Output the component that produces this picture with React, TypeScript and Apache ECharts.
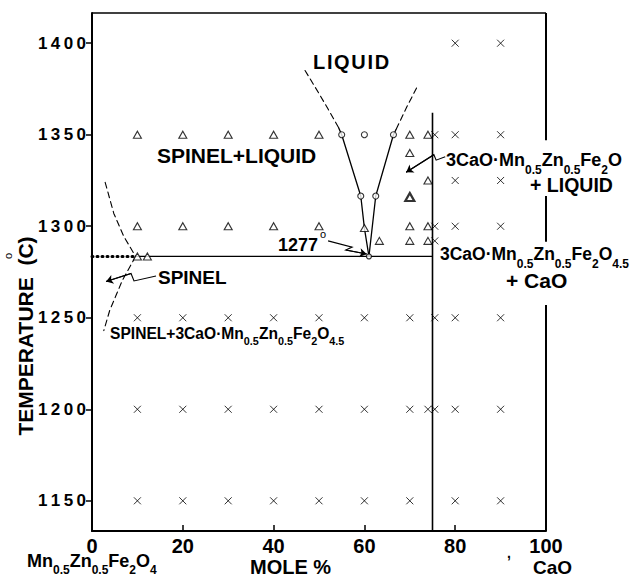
import React, { useEffect, useRef } from "react";
import * as echarts from "echarts";

const FONT = '"Liberation Sans", Arial, Helvetica, sans-serif';
const HS = "\u200A";
const TS = "\u2009";

const xMin = 0;
const xMax = 100;
const yMin = 1133.5;
const yMax = 1416.5;
const yTickValues = [1150, 1200, 1250, 1300, 1350, 1400];

// experimental points
const triangles = [
  [10, 1350], [20, 1350], [30, 1350], [40, 1350], [50, 1350], [70, 1350], [74, 1350],
  [70, 1340], [74, 1325],
  [10, 1300], [20, 1300], [30, 1300], [40, 1300], [50, 1300], [60, 1299], [70, 1300], [74, 1300],
  [63.3, 1292], [70, 1292], [74, 1292],
  [10, 1283.5], [12.2, 1283.5],
];
const boldTriangles = [[70, 1316]];
const circles = [
  [55, 1350], [60, 1350], [66.4, 1350], [59.2, 1316.5], [62.5, 1316.5],
];
const eutectic = [[61, 1283.5]];
const crosses = [
  [80, 1400], [90, 1400],
  [75.5, 1350], [80, 1350], [90, 1350],
  [80, 1325], [90, 1325],
  [75.5, 1300], [80, 1300], [90, 1300],
  [75.5, 1292],
  [10, 1250], [20, 1250], [30, 1250], [40, 1250], [50, 1250], [60, 1250], [70, 1250], [75.5, 1250], [80, 1250], [90, 1250],
  [10, 1200], [20, 1200], [30, 1200], [40, 1200], [50, 1200], [60, 1200], [70, 1200], [74, 1200], [75.5, 1200], [80, 1200], [90, 1200],
  [10, 1150], [20, 1150], [30, 1150], [40, 1150], [50, 1150], [60, 1150], [70, 1150], [80, 1150], [90, 1150],
];

// phase boundaries
const solidus = [[9.6, 1283.5], [75, 1283.5]];
const solidusDotted = [[0, 1283.5], [9.6, 1283.5]];
const compoundLine = [[75, 1362], [75, 1133.5]];
const leftLiquidus = [[61, 1283.5], [60, 1299], [59.2, 1316.5], [55, 1350], [54.3, 1354]];
const leftLiquidusDashed = [[54.3, 1354], [52, 1364], [50, 1372.5], [46.7, 1386]];
const rightLiquidus = [[61, 1283.5], [62.5, 1316.5], [66.4, 1350], [67, 1353]];
const rightLiquidusDashed = [[67, 1353], [69.3, 1365], [71.8, 1377]];
const spinelLiquidus = [[2.9, 1324], [4.8, 1307], [7, 1294.5], [9.6, 1283.5]];
const spinelSolvus = [[9.6, 1283.5], [6.7, 1270.5], [3.9, 1254], [2.6, 1243]];

// frame
const topBorder = [[0, 1416.5], [100, 1416.5]];
const rightBorder1 = [[100, 1416.5], [100, 1347]];
const rightBorder2 = [[100, 1316.5], [100, 1291.5]];
const rightBorder3 = [[100, 1257], [100, 1133.5]];

// annotation arrows (zig-zag leaders)
const arrow1277 = [[52, 1292], [57.3, 1288.6], [55.9, 1287], [60.5, 1284.8]];
const arrowSpinel = [[14.1, 1272.8], [9.25, 1270.1], [8.6, 1274.2], [3.1, 1269.8]];
const arrowCompound = [[77.8, 1338], [75.8, 1336.1], [75.3, 1339.1], [69.2, 1329.5]];

function lineSeries(data: number[][], type: any, width = 1.5) {
  return {
    type: "line",
    data,
    symbol: "none",
    showSymbol: false,
    silent: true,
    clip: false,
    z: 2,
    lineStyle: { color: "#000", width, type, cap: type === "solid" ? "butt" : "round" },
  };
}

function subRich(sub: number, shift: number) {
  return {
    s: {
      fontSize: sub,
      fontWeight: "bold",
      fontFamily: FONT,
      fill: "#000",
      verticalAlign: "bottom",
      lineHeight: Math.round(shift * 2 + sub * 1.15),
    },
  };
}

function txt(text: string, x: number, y: number, size: number, extra: any = {}) {
  return {
    type: "text",
    x,
    y,
    z: 100,
    silent: true,
    style: {
      text,
      fontSize: size,
      fontWeight: "bold",
      fontFamily: FONT,
      fill: "#000",
      align: "left",
      verticalAlign: "middle",
      lineHeight: Math.round(size * 0.9),
      ...extra,
    },
  };
}

export default function App() {
  const ref = useRef<HTMLDivElement>(null);
  useEffect(() => {
    if (!ref.current) return;
    const chart = echarts.init(ref.current, undefined, { renderer: "svg" });
    const arrowSeg = (pts: number[][]) => ({
      coords: [pts[pts.length - 2], pts[pts.length - 1]],
    });
    const option: any = {
      animation: false,
      backgroundColor: "#fff",
      grid: { left: 92, right: 85, top: 13, bottom: 48, containLabel: false },
      xAxis: {
        type: "value",
        min: xMin,
        max: xMax,
        interval: 20,
        axisLine: { onZero: false, lineStyle: { color: "#000", width: 2 } },
        axisTick: { show: true, inside: true, length: 6, lineStyle: { color: "#000", width: 1.5 } },
        axisLabel: { color: "#000", fontSize: 20, fontWeight: "bold", fontFamily: FONT, margin: 5 },
        splitLine: { show: false },
      },
      yAxis: {
        type: "value",
        min: yMin,
        max: yMax,
        axisLine: { onZero: false, lineStyle: { color: "#000", width: 2 } },
        axisTick: { show: true, inside: false, length: 6, customValues: yTickValues, lineStyle: { color: "#000", width: 1.5 } },
        axisLabel: {
          color: "#000",
          fontSize: 17,
          fontWeight: "bold",
          fontFamily: FONT,
          margin: 6,
          customValues: yTickValues,
          formatter: (v: number) => String(Math.round(v)).split("").join(TS),
        },
        splitLine: { show: false },
      },
      series: [
        lineSeries(topBorder, "solid", 1.5),
        lineSeries(rightBorder1, "solid", 2),
        lineSeries(rightBorder2, "solid", 2),
        lineSeries(rightBorder3, "solid", 2),
        lineSeries(solidus, "solid", 1.3),
        lineSeries(solidusDotted, [1, 4], 3),
        lineSeries(compoundLine, "solid", 1.6),
        lineSeries(leftLiquidus, "solid", 1.3),
        lineSeries(leftLiquidusDashed, [6, 4], 1.1),
        lineSeries(rightLiquidus, "solid", 1.3),
        lineSeries(rightLiquidusDashed, [6, 4], 1.1),
        lineSeries(spinelLiquidus, [6, 4], 1.1),
        lineSeries(spinelSolvus, [6, 4], 1.1),
        {
          type: "lines",
          coordinateSystem: "cartesian2d",
          polyline: true,
          silent: true,
          z: 3,
          lineStyle: { color: "#000", width: 1.1, opacity: 1 },
          data: [{ coords: arrow1277 }, { coords: arrowSpinel }, { coords: arrowCompound }],
        },
        {
          type: "lines",
          coordinateSystem: "cartesian2d",
          silent: true,
          z: 3,
          symbol: ["none", "arrow"],
          symbolSize: 7,
          lineStyle: { color: "#000", width: 1.1, opacity: 1, curveness: 0 },
          data: [arrowSeg(arrow1277), arrowSeg(arrowSpinel), arrowSeg(arrowCompound)],
        },
        {
          type: "scatter",
          data: triangles,
          symbol: "triangle",
          symbolSize: [8, 7],
          silent: true,
          z: 5,
          itemStyle: { color: "#fff", borderColor: "#000", borderWidth: 1.1 },
        },
        {
          type: "scatter",
          data: boldTriangles,
          symbol: "triangle",
          symbolSize: [9, 8],
          silent: true,
          z: 5,
          itemStyle: { color: "#fff", borderColor: "#000", borderWidth: 2.2 },
        },
        {
          type: "scatter",
          data: circles,
          symbol: "circle",
          symbolSize: 6,
          silent: true,
          z: 5,
          itemStyle: { color: "#fff", borderColor: "#000", borderWidth: 1.1 },
        },
        {
          type: "scatter",
          data: eutectic,
          symbol: "circle",
          symbolSize: 5,
          silent: true,
          z: 5,
          itemStyle: { color: "#fff", borderColor: "#000", borderWidth: 1.2 },
        },
        {
          type: "scatter",
          data: crosses,
          symbol: "path://M0,0L10,10M10,0L0,10",
          symbolSize: 7,
          silent: true,
          z: 5,
          itemStyle: { color: "none", borderColor: "#000", borderWidth: 1 },
        },
      ],
      graphic: [
        txt("L" + HS + "I" + HS + "Q" + HS + "U" + HS + "I" + HS + "D", 313, 62, 20),
        txt("SPINEL+LIQUID", 157, 155, 21),
        txt("3CaO·Mn{s|0.5}Zn{s|0.5}Fe{s|2}O", 446, 160, 18, { rich: subRich(12, 9) }),
        txt("+ LIQUID", 530, 185, 19.5),
        txt("3CaO·Mn{s|0.5}Zn{s|0.5}Fe{s|2}O{s|4.5}", 440, 254, 17.5, { rich: subRich(12, 9) }),
        txt("+ CaO", 506, 280, 21),
        txt("SPINEL", 158, 277, 19),
        txt("SPINEL+3CaO·Mn{s|0.5}Zn{s|0.5}Fe{s|2}O{s|4.5}", 110, 333, 15.6, { rich: subRich(10.8, 7) }),
        txt("1277", 278, 245, 18),
        txt("o", 320, 234, 11, { fontWeight: "normal" }),
        txt("Mn{s|0.5}Zn{s|0.5}Fe{s|2}O{s|4}", 27, 561, 18, { rich: subRich(12, 8) }),
        txt("MOLE %", 250, 567, 20),
        txt("CaO", 533, 567, 19),
        txt(",", 507, 553, 14),
        {
          type: "text",
          x: 25,
          y: 336,
          rotation: Math.PI / 2,
          z: 100,
          silent: true,
          style: {
            text: "TEMPERATURE  (C)",
            fontSize: 21,
            fontWeight: "bold",
            fontFamily: FONT,
            fill: "#000",
            align: "center",
            verticalAlign: "middle",
          },
        },
        {
          type: "text",
          x: 8,
          y: 256,
          rotation: Math.PI / 2,
          z: 100,
          silent: true,
          style: { text: "o", fontSize: 11, fontFamily: FONT, fill: "#000", align: "center", verticalAlign: "middle" },
        },
      ],
    };
    chart.setOption(option);
    return () => chart.dispose();
  }, []);
  return (
    <div
      ref={ref}
      style={{ position: "fixed", left: 0, top: 0, width: 631, height: 579, background: "#fff" }}
    />
  );
}
